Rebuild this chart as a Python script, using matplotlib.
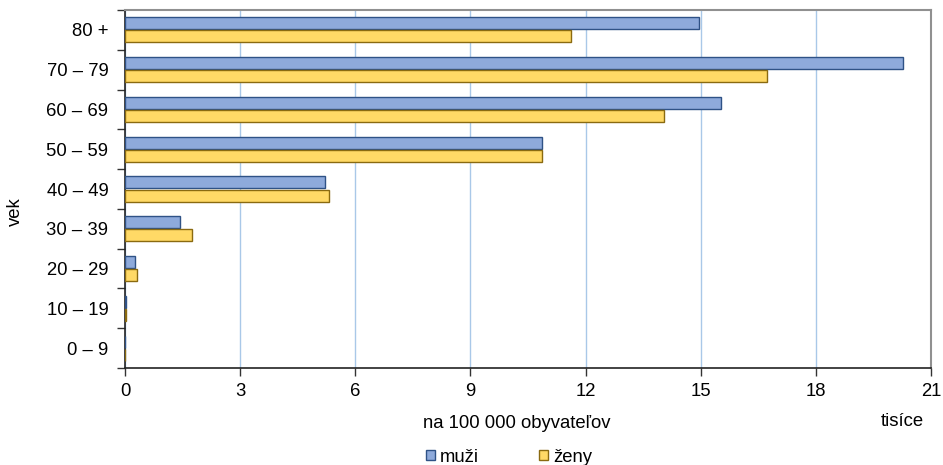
import matplotlib
matplotlib.use("Agg")
import matplotlib.pyplot as plt
import numpy as np

# vekove skupiny (zdola nahor)
vek = ["0 – 9", "10 – 19", "20 – 29", "30 – 39", "40 – 49",
       "50 – 59", "60 – 69", "70 – 79", "80 +"]
muzi = [0.01, 0.02, 0.25, 1.43, 5.21, 10.86, 15.53, 20.28, 14.96]
zeny = [0.01, 0.02, 0.30, 1.75, 5.32, 10.87, 14.05, 16.72, 11.62]
xticks = [0, 3, 6, 9, 12, 15, 18, 21]

plt.rcParams['font.family'] = ['Liberation Sans', 'DejaVu Sans']
fs = 13.3

fig = plt.figure(figsize=(9.43, 4.65), dpi=100)
ax = fig.add_axes([125/943, 1 - 368/465, (931 - 125)/943, (368 - 10)/465])

y = np.arange(len(vek))
h = 0.30
ax.barh(y + 0.165, muzi, height=h, color='#8EAADB', edgecolor='#2F5286',
        linewidth=1.0, label='muži', zorder=3)
ax.barh(y - 0.165, zeny, height=h, color='#FFD966', edgecolor='#8A6A10',
        linewidth=1.0, label='ženy', zorder=3)

ax.set_xlim(0, 21)
ax.set_ylim(-0.5, len(vek) - 0.5)
ax.set_xticks(xticks)
ax.set_xticklabels([str(t) for t in xticks], fontsize=fs)

# popisy kategorii v strede, ciarky na hraniciach
ax.set_yticks(y)
ax.set_yticklabels(vek, fontsize=fs)
ax.tick_params(axis='y', which='major', length=0, pad=12)
ax.set_yticks(np.arange(-0.5, len(vek), 1), minor=True)
ax.tick_params(axis='y', which='minor', length=6, width=1, color='#333333')
ax.tick_params(axis='x', length=6, width=1, color='#333333', pad=5)

ax.grid(axis='x', color='#A9C8E8', linewidth=1.0, zorder=0)
ax.set_axisbelow(True)

for s in ['left', 'bottom']:
    ax.spines[s].set_color('#222222')
    ax.spines[s].set_linewidth(1.2)
for s in ['top', 'right']:
    ax.spines[s].set_color('#909090')
    ax.spines[s].set_linewidth(1.5)

fig.text(15/943, 1 - 212/465, "vek", rotation=90, ha='center', va='center', fontsize=fs)
fig.text(517/943, 1 - 423/465, "na 100 000 obyvateľov", ha='center', va='center', fontsize=fs)
fig.text(902/943, 1 - 422/465, "tisíce", ha='center', va='center', fontsize=fs)

fig.legend(loc='center', bbox_to_anchor=(509/943, 1 - 457/465), ncol=2,
           frameon=False, fontsize=fs, handlelength=0.45, handleheight=0.45,
           handletextpad=0.27, columnspacing=3.3, borderpad=0)

fig.savefig("out.png", dpi=100)
